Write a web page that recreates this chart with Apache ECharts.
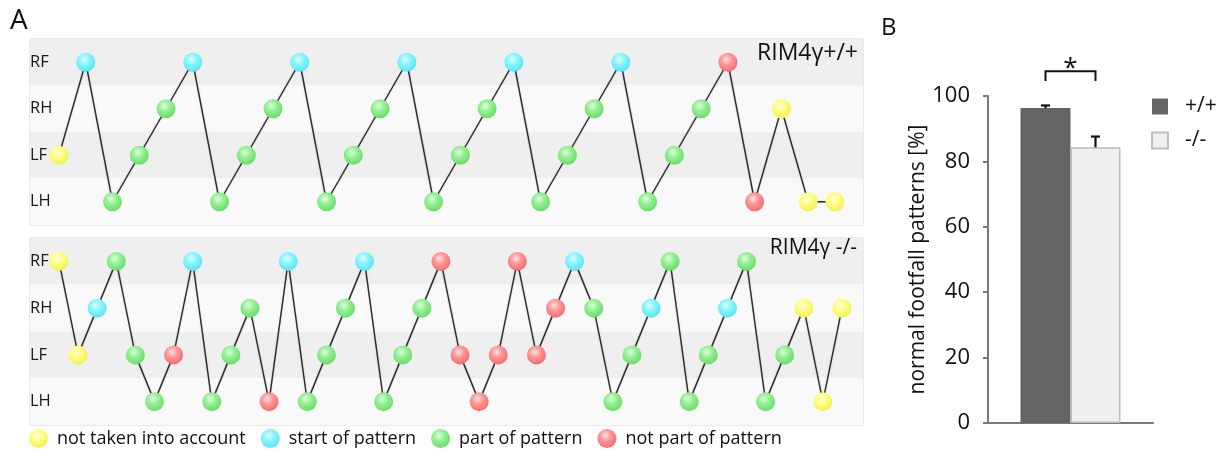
<!DOCTYPE html>
<html>
<head>
<meta charset="utf-8">
<script src="https://cdn.jsdelivr.net/npm/echarts@6/dist/echarts.min.js"></script>
<style>
html,body{margin:0;padding:0;background:#fff;}
#c{width:1227px;height:451px;}
</style>
</head>
<body>
<div id="c"></div>
<script>
// ---------- DATA ----------
const limbRows = ['RF', 'RH', 'LF', 'LH'];
const typeNames = ['not taken into account', 'start of pattern', 'part of pattern', 'not part of pattern'];
const typeCodes = ['Y', 'C', 'G', 'R'];

const wtLimbs = ['LF','RF','LH','LF','RH','RF','LH','LF','RH','RF','LH','LF','RH','RF','LH','LF','RH','RF','LH','LF','RH','RF','LH','LF','RH','RF','LH','RH','LH','LH'];
const wtTypes = ['Y','C','G','G','G','C','G','G','G','C','G','G','G','C','G','G','G','C','G','G','G','C','G','G','G','R','R','Y','Y','Y'];

const koLimbs = ['RF','LF','RH','RF','LF','LH','LF','RF','LH','LF','RH','LH','RF','LH','LF','RH','RF','LH','LF','RH','RF','LF','LH','LF','RF','LF','RH','RF','RH','LH','LF','RH','RF','LH','LF','RH','RF','LH','LF','RH','LH','RH'];
const koTypes = ['Y','Y','C','G','G','G','R','C','G','G','G','R','C','G','G','G','C','G','G','G','R','R','R','R','R','R','R','C','G','G','G','C','G','G','G','C','G','G','G','Y','Y','Y'];

const panelTitles = ['RIM4γ+/+', 'RIM4γ -/-'];

const genotypes = ['+/+', '-/-'];
const barValues = [96.3, 84.3];
const barErrors = [0.8, 3.3];
const yTicks = [0, 20, 40, 60, 80, 100];
const sigBracket = [107.6, 104.6]; // top, leg bottom (% units)
const sigLabel = '*';

// ---------- STYLE ----------
const FONT = 'Open Sans';
const BAR_W = 50;
const CAP_W = 9;
const palette = {
  Y: ['#ffffe0', '#ffff84', '#eeee50'],
  C: ['#e0ffff', '#88f5ff', '#56e2f2'],
  G: ['#e0ffe0', '#96f096', '#62da62'],
  R: ['#ffe4e4', '#ff9898', '#ee6868']
};
function ball(code) {
  const p = palette[code];
  return {
    type: 'radial', x: 0.42, y: 0.35, r: 0.7,
    colorStops: [{offset: 0, color: p[0]}, {offset: 0.4, color: p[1]}, {offset: 1, color: p[2]}]
  };
}

// ---------- BUILD ----------
const series = [];
function addPanel(limbs, types, idx) {
  series.push({
    type: 'line', xAxisIndex: idx, yAxisIndex: idx, z: 2,
    data: limbs.map((l, i) => [i, l]),
    showSymbol: false, symbol: 'none',
    lineStyle: {color: '#2e2e2e', width: 1.4, shadowColor: 'rgba(0,0,0,0.25)', shadowBlur: 1.5},
    silent: true, animation: false
  });
  typeCodes.forEach((code, k) => {
    series.push({
      name: typeNames[k], type: 'scatter', xAxisIndex: idx, yAxisIndex: idx, z: 3,
      symbolSize: 19,
      itemStyle: {color: ball(code), opacity: 1},
      data: limbs.map((l, i) => types[i] === code ? [i, l] : null).filter(d => d),
      animation: false
    });
  });
}
addPanel(wtLimbs, wtTypes, 0);
addPanel(koLimbs, koTypes, 1);

genotypes.forEach((g, i) => {
  series.push({
    name: g, type: 'bar', xAxisIndex: 2, yAxisIndex: 2,
    barWidth: BAR_W, barGap: '0%',
    data: [barValues[i]],
    itemStyle: i === 0 ? {color: '#646464'} : {color: '#efefef', borderColor: '#bdbdbd', borderWidth: 1.5},
    animation: false
  });
});

series.push({
  type: 'custom', xAxisIndex: 2, yAxisIndex: 2, z: 5, animation: false, silent: true,
  data: genotypes.map((g, i) => [0, barValues[i], barErrors[i], i === 0 ? -1 : 1]),
  renderItem(params, api) {
    const b = api.coord([api.value(0), api.value(1)]);
    const t = api.coord([api.value(0), api.value(1) + api.value(2)]);
    const x = b[0] + api.value(3) * BAR_W / 2;
    return {type: 'group', children: [
      {type: 'line', shape: {x1: x, y1: b[1], x2: x, y2: t[1]}, style: {stroke: '#111', lineWidth: 2.2}},
      {type: 'line', shape: {x1: x - CAP_W / 2, y1: t[1], x2: x + CAP_W / 2, y2: t[1]}, style: {stroke: '#111', lineWidth: 2.2}}
    ]};
  }
});

series.push({
  type: 'custom', xAxisIndex: 2, yAxisIndex: 2, z: 5, animation: false, silent: true,
  data: [[0, sigBracket[0], sigBracket[1]]],
  renderItem(params, api) {
    const t = api.coord([api.value(0), api.value(1)]);
    const l = api.coord([api.value(0), api.value(2)]);
    const xl = t[0] - BAR_W / 2, xr = t[0] + BAR_W / 2;
    return {type: 'group', children: [
      {type: 'polyline', shape: {points: [[xl, l[1]], [xl, t[1]], [xr, t[1]], [xr, l[1]]]},
        style: {stroke: '#111', lineWidth: 2, fill: null}},
      {type: 'text', x: (xl + xr) / 2, y: t[1] - 3,
        style: {text: sigLabel, fontSize: 26, fontFamily: FONT, fill: '#111', align: 'center', verticalAlign: 'middle'}}
    ]};
  }
});

function panelY(idx) {
  return {
    type: 'category', gridIndex: idx, data: limbRows, inverse: true,
    axisLine: {show: false}, axisTick: {show: false},
    axisLabel: {inside: true, margin: 0, fontSize: 16.5, fontFamily: FONT, color: '#1a1a1a'},
    splitLine: {show: false},
    splitArea: {show: true, areaStyle: {color: ['#efefef', '#f9f9f9']}}
  };
}

const option = {
  backgroundColor: '#fff',
  animation: false,
  textStyle: {fontFamily: FONT},
  title: [
    {text: 'A', left: 10, top: 7, padding: 0, textStyle: {fontSize: 28, fontWeight: 'normal', color: '#111', fontFamily: FONT}},
    {text: 'B', left: 881, top: 16, padding: 0, textStyle: {fontSize: 24, fontWeight: 'normal', color: '#111', fontFamily: FONT}},
    {text: panelTitles[0], right: 369, top: 42, padding: 0, textStyle: {fontSize: 23, fontWeight: 'normal', color: '#111', fontFamily: FONT}},
    {text: panelTitles[1], right: 370, top: 238, padding: 0, textStyle: {fontSize: 21, fontWeight: 'normal', color: '#111', fontFamily: FONT}}
  ],
  legend: [
    {
      data: typeNames, left: 29, top: 429, padding: 0, itemWidth: 19, itemHeight: 19, itemGap: 15, icon: 'circle',
      textStyle: {fontSize: 18, fontFamily: FONT, color: '#111', padding: [0, 0, 0, 4]},
      selectedMode: false
    },
    {
      data: genotypes, left: 1151, top: 96, padding: 0, orient: 'vertical', itemWidth: 16, itemHeight: 16, itemGap: 13, icon: 'rect',
      textStyle: {fontSize: 21, fontFamily: FONT, color: '#111', padding: [0, 0, 0, 12]},
      selectedMode: false
    }
  ],
  grid: [
    {left: 30, right: 364, top: 39, height: 186, show: true, borderColor: '#d4d4d4', borderWidth: 1, backgroundColor: 'transparent'},
    {left: 30, right: 364, top: 238, height: 187, show: true, borderColor: '#d4d4d4', borderWidth: 1, backgroundColor: 'transparent'},
    {left: 988, right: 74, top: 96, height: 327}
  ],
  xAxis: [
    {type: 'value', gridIndex: 0, min: -1.084, max: 30.05, show: false},
    {type: 'value', gridIndex: 1, min: -1.518, max: 42.1, show: false},
    {type: 'category', gridIndex: 2, data: [''],
      axisLine: {show: true, lineStyle: {color: '#7a7a7a', width: 2}},
      axisTick: {show: false}, axisLabel: {show: false}}
  ],
  yAxis: [
    panelY(0),
    panelY(1),
    {type: 'value', gridIndex: 2, min: yTicks[0], max: yTicks[yTicks.length - 1], interval: 20,
      axisLine: {show: true, lineStyle: {color: '#7a7a7a', width: 2}},
      axisTick: {show: true, length: 5, lineStyle: {color: '#7a7a7a', width: 2}},
      axisLabel: {fontSize: 22, fontFamily: FONT, color: '#111', margin: 18, padding: [12, 0, 0, 0]},
      splitLine: {show: false},
      name: 'normal footfall patterns [%]', nameLocation: 'middle', nameGap: 52,
      nameTextStyle: {fontSize: 21, fontFamily: FONT, color: '#111'}}
  ],
  series: series
};

const chart = echarts.init(document.getElementById('c'), null, {renderer: 'canvas'});
chart.setOption(option);
</script>
</body>
</html>
